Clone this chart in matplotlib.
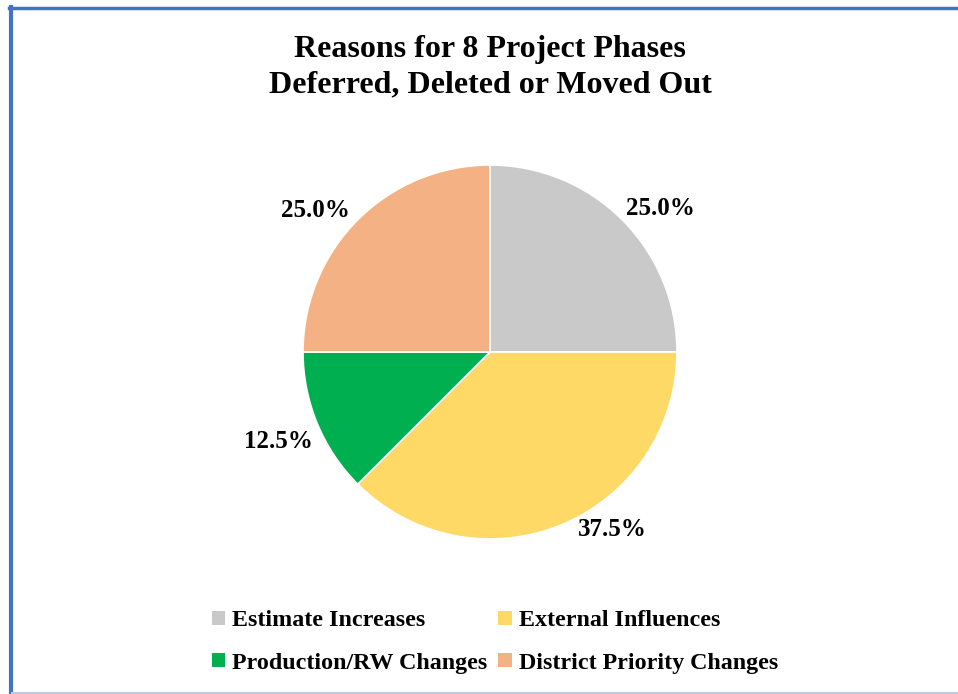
import matplotlib
matplotlib.use("Agg")
import matplotlib.pyplot as plt
import numpy as np
from matplotlib.lines import Line2D
from matplotlib.patches import Patch

plt.rcParams["font.family"] = ["Liberation Serif", "DejaVu Serif"]
plt.rcParams["font.weight"] = "bold"

categories = ["Estimate Increases", "External Influences",
              "Production/RW Changes", "District Priority Changes"]
shares = [25.0, 37.5, 12.5, 25.0]
colors = ["#C9C9C9", "#FFD966", "#00B050", "#F4B183"]
title_lines = ["Reasons for 8 Project Phases", "Deferred, Deleted or Moved Out"]

# label placement (angle in degrees, distance in radii) like Excel's best fit
label_angles = [40, -55.5, 203, 141]
label_dists = [1.19, 1.155, 1.23, 1.20]

W, H = 958, 694
fig = plt.figure(figsize=(W / 100, H / 100), dpi=100)

# pie area: centre (490, 352), radius 187 px
cx, cy, r = 490, 352, 187
ax = fig.add_axes([(cx - r) / W, (H - cy - r) / H, 2 * r / W, 2 * r / H])
wedges, texts, autotexts = ax.pie(
    shares, colors=colors, startangle=90, counterclock=False,
    autopct="%.1f%%", pctdistance=1.2,
    wedgeprops=dict(linewidth=1.2, edgecolor="white"),
    textprops=dict(fontsize=18, fontweight="bold", color="black"))
for t, a, d in zip(autotexts, label_angles, label_dists):
    t.set_position((d * np.cos(np.radians(a)), d * np.sin(np.radians(a))))
ax.set_xlim(-1, 1)
ax.set_ylim(-1, 1)
ax.set_aspect("equal")
ax.axis("off")

# titles
fig.text(cx / W, 1 - 50 / H, title_lines[0], ha="center", va="center",
         fontsize=23, fontweight="bold")
fig.text(cx / W, 1 - 85 / H, title_lines[1], ha="center", va="center",
         fontsize=23, fontweight="bold")

# legend, row-major order in a 2-column layout
order = [0, 2, 1, 3]
handles = [Patch(facecolor=colors[i], edgecolor="none") for i in order]
labels = [categories[i] for i in order]
fig.legend(handles, labels, ncol=2, loc="center",
           bbox_to_anchor=(495 / W, 1 - 642 / H), frameon=False,
           prop=dict(size=17.3, weight="bold"),
           handlelength=0.55, handleheight=0.55, handletextpad=0.3,
           columnspacing=0.45, labelspacing=0.88)

# outer frame lines
fig.add_artist(Line2D([10.5 / W, 10.5 / W], [0, 1 - 7 / H],
                      transform=fig.transFigure, color="#4472C4", lw=3))
fig.add_artist(Line2D([9 / W, 1], [1 - 8 / H, 1 - 8 / H],
                      transform=fig.transFigure, color="#4472C4", lw=2.5))
fig.add_artist(Line2D([12 / W, 1], [1 - 693 / H, 1 - 693 / H],
                      transform=fig.transFigure, color="#BFC8E6", lw=1.5))

fig.savefig("out.png", dpi=100, facecolor="white")
